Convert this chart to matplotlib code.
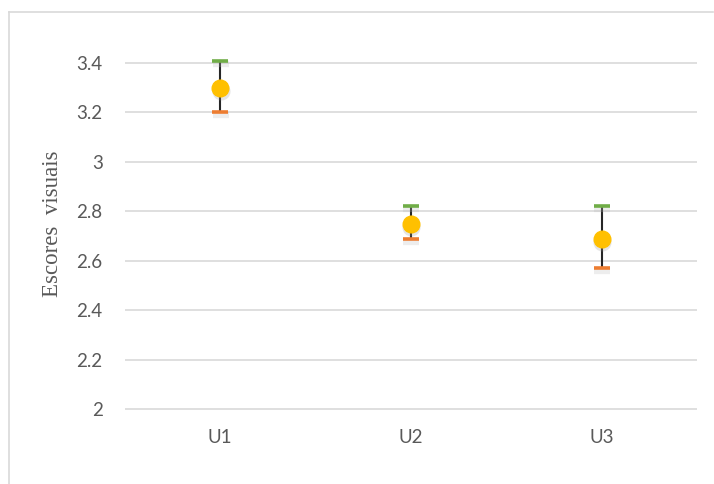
import matplotlib
matplotlib.use("Agg")
import matplotlib.pyplot as plt
from matplotlib.lines import Line2D
from matplotlib import transforms

categories = ["U1", "U2", "U3"]
means = [3.30, 2.75, 2.69]
highs = [3.41, 2.82, 2.82]
lows = [3.20, 2.69, 2.57]
yticks = [2, 2.2, 2.4, 2.6, 2.8, 3, 3.2, 3.4]
ytick_labels = ["2", "2.2", "2.4", "2.6", "2.8", "3", "3.2", "3.4"]

fig = plt.figure(figsize=(7.14, 4.84), dpi=100)
ax = fig.add_axes([0.175, 0.153, 0.801, 0.727])

# border of the chart area
fig.add_artist(Line2D([8.5/714, 8.5/714], [0, 1 - 11.5/484], transform=fig.transFigure, color="#d9d9d9", lw=1.2))
fig.add_artist(Line2D([8.5/714, 713/714], [1 - 11.5/484, 1 - 11.5/484], transform=fig.transFigure, color="#d9d9d9", lw=1.2))

shadow = transforms.offset_copy(ax.transData, fig=fig, x=0.5, y=-3, units="dots")

x = list(range(len(categories)))
for xi, m, h, l in zip(x, means, highs, lows):
    ax.plot([xi, xi], [l, h], color="#262626", lw=1.5, zorder=3)
    for y, c in ((h, "#70AD47"), (l, "#ED7D31")):
        ax.plot([xi], [y], marker="_", markersize=12, markeredgewidth=4.5, color="#bbbbbb", alpha=0.25, transform=shadow, zorder=3.5)
        ax.plot([xi], [y], marker="_", markersize=11.5, markeredgewidth=2.6, color=c, zorder=4)
    ax.plot([xi], [m], marker="o", markersize=13, color="#999999", markeredgewidth=0, alpha=0.25, transform=shadow, zorder=4.5)
    ax.plot([xi], [m], marker="o", markersize=12, color="#FFC000", markeredgecolor="#FFC000", zorder=5)

ax.set_xlim(-0.5, 2.5)
ax.set_ylim(1.997, 3.42)
ax.set_yticks(yticks)
ax.set_yticklabels(ytick_labels)
ax.set_xticks(x)
ax.set_xticklabels(categories)
ax.grid(axis="y", color="#d9d9d9", lw=1.2)
ax.set_axisbelow(True)
for s in ax.spines.values():
    s.set_visible(False)
ax.tick_params(length=0, labelsize=13.5, labelcolor="#595959")
ax.tick_params(axis="x", pad=14)
ax.tick_params(axis="y", pad=16)
for lab in ax.get_xticklabels() + ax.get_yticklabels():
    lab.set_fontfamily("Lato")
ax.set_ylabel("Escores  visuais", fontfamily="Liberation Serif", fontsize=16.5, color="#595959")
ax.yaxis.set_label_coords(-0.108, 0.528)

fig.savefig("out.png", dpi=100)
